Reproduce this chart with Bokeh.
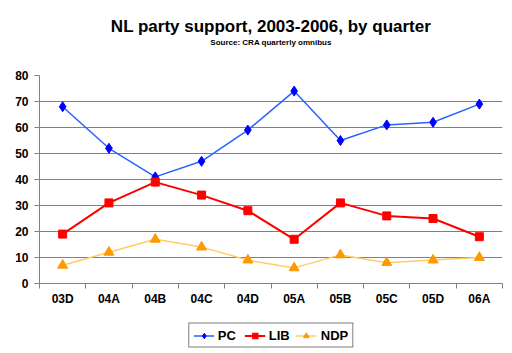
from bokeh.plotting import figure
from bokeh.layouts import column
from bokeh.models import (Range1d, FixedTicker, Legend, LegendItem, Title)
from bokeh.embed import file_html
from bokeh.resources import INLINE

quarters = ["03D", "04A", "04B", "04C", "04D", "05A", "05B", "05C", "05D", "06A"]
pc = [68, 52, 41, 47, 59, 74, 55, 61, 62, 69]
lib = [19, 31, 39, 34, 28, 17, 31, 26, 25, 18]
ndp = [7, 12, 17, 14, 9, 6, 11, 8, 9, 10]

xs = list(range(1, len(quarters) + 1))
FONT = "Liberation Sans"

series = [
    ("PC", pc, dict(line_color="#2a62ff", line_width=1.5),
     dict(marker="diamond", size=10, fill_color="#0000ff", line_color="#0000ff")),
    ("LIB", lib, dict(line_color="#ff0000", line_width=2),
     dict(marker="square", size=8, fill_color="#ff0000", line_color="#ff0000")),
    ("NDP", ndp, dict(line_color="#ffcc66", line_width=1.5),
     dict(marker="triangle", size=10, fill_color="#ff9900", line_color="#ff9900")),
]

p = figure(width=512, height=313, output_backend="svg", toolbar_location=None,
           x_range=Range1d(0.5, len(quarters) + 0.5), y_range=Range1d(0, 80),
           min_border_left=39, min_border_right=10, min_border_top=75, min_border_bottom=30,
           background_fill_color="white", border_fill_color="white", outline_line_color=None)

spacer = Title(text=" ", text_font_size="24px", standoff=0)
p.add_layout(spacer, "above")
sub = Title(text="Source: CRA quarterly omnibus", align="center", text_font=FONT,
            text_font_size="8px", text_font_style="bold", text_color="black", standoff=0)
p.add_layout(sub, "above")
main = Title(text="NL party support, 2003-2006, by quarter", align="center", text_font=FONT,
             text_font_size="17px", text_font_style="bold", text_color="black", standoff=0)
p.add_layout(main, "above")

# x axis
p.xaxis.ticker = FixedTicker(ticks=xs, minor_ticks=[x + 0.5 for x in range(0, len(quarters) + 1)])
p.xaxis.major_label_overrides = {x: q for x, q in zip(xs, quarters)}
p.xaxis.major_tick_out = 0
p.xaxis.major_tick_in = 0
p.xaxis.minor_tick_out = 5
p.xaxis.minor_tick_in = 0
p.xaxis.minor_tick_line_color = "#808080"
p.xaxis.axis_line_color = "#808080"
p.xaxis.major_label_text_font = FONT
p.xaxis.major_label_text_font_size = "12px"
p.xaxis.major_label_text_font_style = "bold"
p.xaxis.major_label_text_color = "black"
p.xaxis.major_label_standoff = 3

# y axis
p.yaxis.ticker = FixedTicker(ticks=list(range(0, 81, 10)))
p.yaxis.major_tick_out = 5
p.yaxis.major_tick_in = 0
p.yaxis.minor_tick_line_color = None
p.yaxis.axis_line_color = "#808080"
p.yaxis.major_tick_line_color = "#808080"
p.yaxis.major_label_text_font = FONT
p.yaxis.major_label_text_font_size = "12px"
p.yaxis.major_label_text_font_style = "bold"
p.yaxis.major_label_text_color = "black"
p.yaxis.major_label_standoff = 6

p.xgrid.grid_line_color = None
p.ygrid.ticker = FixedTicker(ticks=list(range(10, 80, 10)))
p.ygrid.grid_line_color = "#808080"
p.ygrid.grid_line_width = 1

for name, vals, lkw, mkw in series:
    p.line(xs, vals, **lkw)
    p.scatter(xs, vals, **mkw)

# legend strip below the chart (no axes, frame fills the strip)
q = figure(width=512, height=40, output_backend="svg", toolbar_location=None,
           x_range=Range1d(0, 1), y_range=Range1d(0, 1),
           x_axis_location=None, y_axis_location=None,
           min_border_left=28, min_border_right=0, min_border_top=4, min_border_bottom=0,
           background_fill_color="white", border_fill_color="white", outline_line_color=None)
q.grid.grid_line_color = None
items = []
for name, vals, lkw, mkw in series:
    # one off-screen point per series so the legend has glyphs to draw
    r1 = q.line([-5, -4], [vals[0], vals[0]], **lkw)
    r2 = q.scatter([-5], [vals[0]], **mkw)
    items.append(LegendItem(label=name, renderers=[r1, r2]))

legend = Legend(items=items, orientation="horizontal", location="center",
                border_line_color="black", border_line_width=1,
                label_text_font=FONT, label_text_font_size="13px",
                label_text_font_style="bold", label_text_color="black",
                glyph_width=21, glyph_height=14, label_standoff=4, spacing=6,
                padding=4, margin=0, label_height=14)
q.add_layout(legend, "center")

layout = column(p, q, spacing=0)
open("out.html", "w").write(file_html(layout, INLINE))
